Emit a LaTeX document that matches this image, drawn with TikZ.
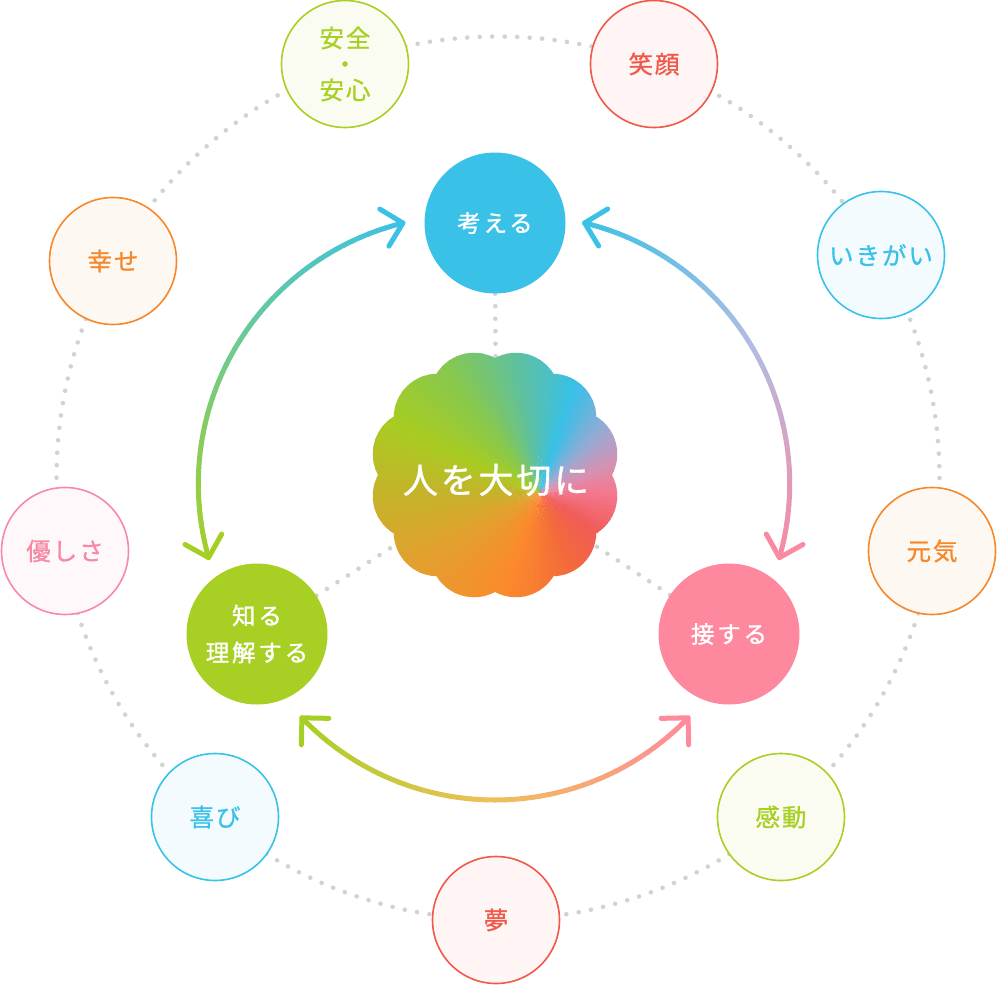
\documentclass[tikz,border=0pt]{standalone}
\usepackage{fontspec}
\setmainfont{Noto Sans CJK JP}
\newfontfamily\jpring[LetterSpace=8,FakeBold=0.9]{Noto Sans CJK JP}
\newfontfamily\jpinner[LetterSpace=12,FakeBold=1.3]{Noto Sans CJK JP}
\newfontfamily\jpcore[LetterSpace=8,FakeBold=1.0]{Noto Sans CJK JP}
\usetikzlibrary{backgrounds}

\definecolor{ublue}{HTML}{3AC1E8}
\definecolor{ugreen}{HTML}{A8CF23}
\definecolor{upink}{HTML}{FE889E}
\definecolor{ured}{HTML}{F0584A}
\definecolor{uorange}{HTML}{F6882C}
\definecolor{upinkl}{HTML}{F68AA6}
\definecolor{dotgray}{HTML}{D2D2D2}
% arc gradient colours
\definecolor{ablue}{HTML}{3CC1E6}
\definecolor{ateal}{HTML}{6ECA90}
\definecolor{agreen}{HTML}{A6CF24}
\definecolor{alav}{HTML}{B4BCE2}
\definecolor{apink}{HTML}{F88AA2}
\definecolor{ayel}{HTML}{EFC05A}
\definecolor{apink2}{HTML}{FF8A9C}
% conic stops
\definecolor{k0}{HTML}{F47890}
\definecolor{k1}{HTML}{F05C58}
\definecolor{k2}{HTML}{F46A3A}
\definecolor{k3}{HTML}{FB8A2C}
\definecolor{k4}{HTML}{E4A02E}
\definecolor{k5}{HTML}{C4B42A}
\definecolor{k6}{HTML}{A8CC22}
\definecolor{k7}{HTML}{88C84C}
\definecolor{k8}{HTML}{5CC0A4}
\definecolor{k9}{HTML}{38C0E8}
\definecolor{k10}{HTML}{A0A8D0}
\definecolor{k11}{HTML}{D890B0}

\newcommand\gradarc[6]{%
  \foreach \k in {0,...,23}{%
    \pgfmathsetmacro\gaA{#3+(#4-#3)*\k/24}%
    \pgfmathsetmacro\gaB{#3+(#4-#3)*(\k+1)/24}%
    \pgfmathtruncatemacro\gpp{round(100*(\k+0.5)/24)}%
    \draw[arcline, draw=#6!\gpp!#5] ([shift={(\gaA:#2)}]#1) arc[start angle=\gaA, end angle=\gaB, radius=#2];
  }}

\begin{document}
\begin{tikzpicture}[x=1pt,y=-1pt,
  ring/.style={circle, draw=#1, fill=#1!6!white, text=#1, line width=1.6pt,
    minimum size=127pt, inner sep=0pt, align=center,
    font=\jpring\fontsize{24.5}{26}\selectfont},
  core/.style={circle, fill=#1, text=white, minimum size=141pt, inner sep=0pt,
    align=center, font=\jpinner\fontsize{23.5}{37}\selectfont},
  dotline/.style={draw=dotgray, line width=4.6pt, line cap=round, dash pattern=on 0pt off 12.5pt},
  arcline/.style={line width=5pt, line cap=round, line join=round}]
\useasboundingbox (0,0) rectangle (997,985);

% outer ring
\node[ring=ugreen]  (anzen)  at (345,64)  {安全\\・\\安心};
\node[ring=ured]    (egao)   at (654,64)  {笑顔};
\node[ring=ublue]   (ikigai) at (881,255) {いきがい};
\node[ring=uorange] (genki)  at (932,551) {元気};
\node[ring=ugreen]  (kando)  at (781,817) {感動};
\node[ring=ured]    (yume)   at (496,920) {夢};
\node[ring=ublue]   (yoroko) at (215,817) {喜び};
\node[ring=upinkl]  (yasash) at (65,551)  {優しさ};
\node[ring=uorange] (shiawa) at (113,261) {幸せ};

% inner nodes
\node[core=ublue]  (think) at (495,223) {考える};
\node[core=ugreen] (know)  at (257,634) {知る\\理解する};
\node[core=upink]  (touch) at (729,634) {接する};

% flower with conic gradient
\coordinate (fc) at (495,475);
\coordinate (gc) at (540,492);
\begin{scope}
  \clip (fc) circle[radius=100]
    foreach \a in {15,45,...,345}{ ([shift={(\a:81)}]fc) circle[radius=44] };
  \foreach \aa/\ab/\ca/\cb in {0/35/k0/k1, 35/70/k1/k2, 70/110/k2/k3, 110/150/k3/k4,
      150/180/k4/k5, 180/205/k5/k6, 205/232/k6/k7, 232/262/k7/k8, 262/288/k8/k9,
      288/318/k9/k10, 318/340/k10/k11, 340/360/k11/k0}{
    \foreach \i in {0,...,9}{
      \pgfmathsetmacro\wa{\aa+(\ab-\aa)*\i/10}
      \pgfmathsetmacro\wb{\aa+(\ab-\aa)*(\i+1)/10+0.6}
      \pgfmathtruncatemacro\wp{round(100*(\i+0.5)/10)}
      \fill[fill=\cb!\wp!\ca] (gc) -- ([shift={(\wa:230)}]gc) arc[start angle=\wa, end angle=\wb, radius=230] -- cycle;
    }
  }
\end{scope}
\node[font=\jpcore\fontsize{35}{40}\selectfont, text=white, inner sep=0pt] (heart) at (496,480) {人を大切に};

% dotted connectors
\begin{scope}[on background layer]
  \draw[dotline] (498,478) circle[radius=441.5];
  \draw[dotline] (think) -- (heart);
  \draw[dotline] (know) -- (heart);
  \draw[dotline] (touch) -- (heart);
\end{scope}

% gradient arcs
\coordinate (cl) at (467,484);
\coordinate (cr) at (521,484);
\coordinate (cb) at (495,532);
\gradarc{cl}{268.7}{256.2}{210.15}{ablue}{ateal}
\gradarc{cl}{268.7}{210.15}{164.1}{ateal}{agreen}
\gradarc{cr}{268.7}{283.7}{329.8}{ablue}{alav}
\gradarc{cr}{268.7}{329.8}{375.9}{alav}{apink}
\gradarc{cb}{268}{136.1}{90}{agreen}{ayel}
\gradarc{cb}{268}{90}{43.9}{ayel}{apink2}

% arrow tips
\coordinate (lt) at ([shift={(256.2:268.7)}]cl);
\coordinate (lb) at ([shift={(164.1:268.7)}]cl);
\coordinate (rt) at ([shift={(283.7:268.7)}]cr);
\coordinate (rb) at ([shift={(15.9:268.7)}]cr);
\coordinate (bl) at ([shift={(136.1:268)}]cb);
\coordinate (br) at ([shift={(43.9:268)}]cb);
\draw[arcline, draw=ablue]  ([shift={(121.2:27)}]lt) -- (lt) -- ([shift={(211.2:27)}]lt);
\draw[arcline, draw=agreen] ([shift={(209.1:27)}]lb) -- (lb) -- ([shift={(299.1:27)}]lb);
\draw[arcline, draw=ablue]  ([shift={(328.7:27)}]rt) -- (rt) -- ([shift={(58.7:27)}]rt);
\draw[arcline, draw=apink]  ([shift={(240.9:27)}]rb) -- (rb) -- ([shift={(330.9:27)}]rb);
\draw[arcline, draw=agreen] ([shift={(1.1:27)}]bl) -- (bl) -- ([shift={(91.1:27)}]bl);
\draw[arcline, draw=apink2] ([shift={(88.9:27)}]br) -- (br) -- ([shift={(178.9:27)}]br);
\end{tikzpicture}
\end{document}
